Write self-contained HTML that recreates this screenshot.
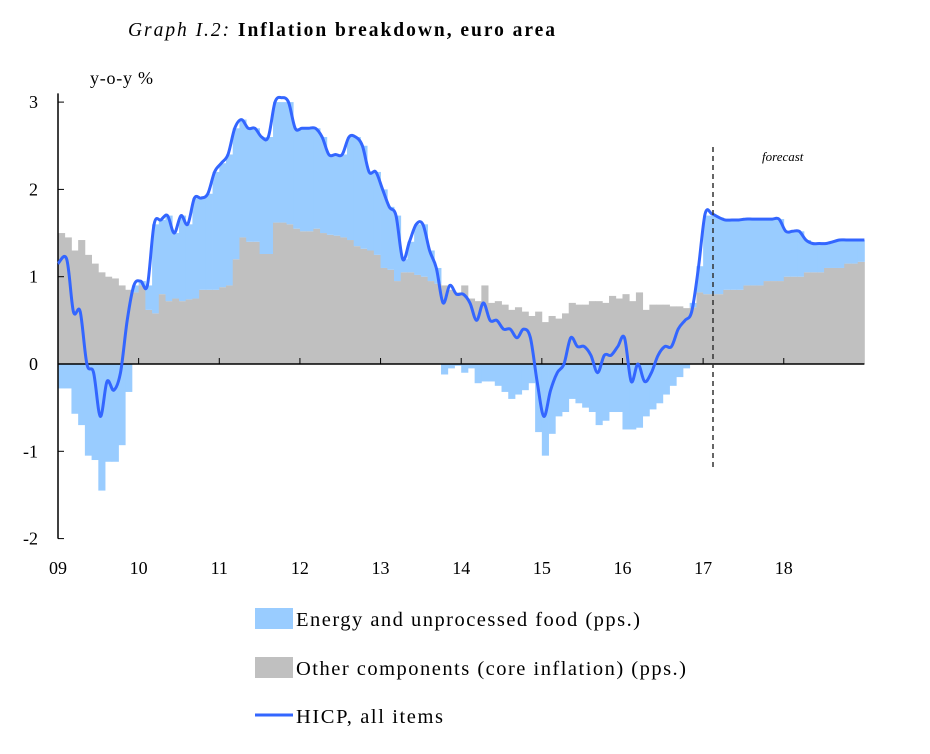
<!DOCTYPE html>
<html><head><meta charset="utf-8"><style>
html,body{margin:0;padding:0;background:#fff;}
svg text{font-family:"Liberation Serif",serif;}
</style></head><body>
<svg width="930" height="749" viewBox="0 0 930 749" xmlns="http://www.w3.org/2000/svg">
<text x="128" y="36" font-size="19.5" textLength="427" lengthAdjust="spacing"><tspan font-style="italic">Graph I.2: </tspan><tspan font-weight="bold">Inflation  breakdown,  euro area</tspan></text>
<text x="90" y="84" font-size="18" textLength="63" lengthAdjust="spacing">y-o-y %</text>
<g id="bars"></g>
<g id="axes"></g>
<path id="hicp" fill="none" stroke="#3366ff" stroke-width="3" stroke-linejoin="round"/>
<line x1="713" y1="147" x2="713" y2="468" stroke="#333" stroke-width="1.5" stroke-dasharray="5,4"/>
<text x="762" y="161" font-size="13" font-style="italic">forecast</text>
<rect x="255" y="608" width="38" height="21" fill="#99ccff"/>
<text x="296" y="626" font-size="20.5" textLength="344" lengthAdjust="spacing">Energy and unprocessed food (pps.)</text>
<rect x="255" y="657" width="38" height="21" fill="#c0c0c0"/>
<text x="296" y="675" font-size="20.5" textLength="390" lengthAdjust="spacing">Other components (core inflation) (pps.)</text>
<line x1="255" y1="715" x2="293" y2="715" stroke="#3366ff" stroke-width="3"/>
<text x="296" y="723" font-size="20.5" textLength="147" lengthAdjust="spacing">HICP, all items</text>
</svg>
<script>
const yearLabels=["09","10","11","12","13","14","15","16","17","18"];
const yTicks=[-2,-1,0,1,2,3];
const core=[1.5,1.45,1.3,1.42,1.25,1.15,1.05,1.0,0.98,0.9,0.85,0.82,
0.9,0.62,0.58,0.8,0.72,0.75,0.72,0.74,0.75,0.85,0.85,0.85,
0.88,0.9,1.2,1.45,1.4,1.4,1.26,1.26,1.62,1.62,1.6,1.55,
1.52,1.52,1.55,1.5,1.48,1.47,1.45,1.42,1.35,1.32,1.3,1.25,
1.1,1.08,0.95,1.05,1.05,1.02,1.0,0.95,0.92,0.9,0.85,0.82,
0.9,0.75,0.72,0.9,0.7,0.72,0.68,0.62,0.65,0.6,0.55,0.6,
0.48,0.55,0.52,0.58,0.7,0.68,0.68,0.72,0.72,0.7,0.78,0.75,
0.8,0.72,0.82,0.62,0.68,0.68,0.68,0.66,0.66,0.64,0.65,0.82,
0.8,0.8,0.8,0.85,0.85,0.85,0.9,0.9,0.9,0.95,0.95,0.95,
1.0,1.0,1.0,1.05,1.05,1.05,1.1,1.1,1.1,1.15,1.15,1.17];
const energy=[-0.28,-0.28,-0.57,-0.7,-1.05,-1.1,-1.45,-1.12,-1.12,-0.93,-0.32,0.08,
0.05,0.28,1.02,0.85,0.98,0.75,0.98,0.86,1.15,1.05,1.1,1.35,
1.42,1.5,1.5,1.35,1.3,1.3,1.34,1.34,1.38,1.38,1.4,1.15,
1.18,1.18,1.15,1.1,0.92,0.93,0.95,1.18,1.25,1.18,0.9,0.95,
0.9,0.72,0.75,0.15,0.35,0.58,0.6,0.35,0.18,-0.12,-0.05,-0.02,
-0.1,-0.05,-0.22,-0.2,-0.2,-0.25,-0.32,-0.4,-0.35,-0.3,-0.22,-0.78,
-1.05,-0.8,-0.6,-0.55,-0.4,-0.45,-0.5,-0.55,-0.7,-0.65,-0.55,-0.55,
-0.75,-0.75,-0.73,-0.6,-0.52,-0.45,-0.35,-0.25,-0.15,-0.05,0.05,0.3,
0.9,0.9,0.88,0.8,0.8,0.8,0.76,0.76,0.76,0.71,0.71,0.71,
0.52,0.52,0.52,0.37,0.33,0.33,0.28,0.3,0.32,0.27,0.27,0.25];
const hicp=[1.15,1.2,0.6,0.6,0.0,-0.1,-0.6,-0.2,-0.3,-0.1,0.5,0.9,
0.95,0.9,1.6,1.65,1.7,1.5,1.7,1.6,1.9,1.9,1.95,2.2,
2.3,2.4,2.7,2.8,2.7,2.7,2.6,2.6,3.0,3.05,3.0,2.7,
2.7,2.7,2.7,2.6,2.4,2.4,2.4,2.6,2.6,2.5,2.2,2.2,
2.0,1.8,1.7,1.2,1.4,1.6,1.6,1.3,1.1,0.7,0.9,0.8,
0.8,0.7,0.5,0.7,0.5,0.5,0.4,0.4,0.3,0.4,0.3,-0.2,
-0.6,-0.3,-0.1,0.0,0.3,0.2,0.2,0.1,-0.1,0.1,0.1,0.2,
0.3,-0.2,0.0,-0.2,-0.1,0.1,0.2,0.2,0.4,0.5,0.6,1.1,
1.72,1.72,1.68,1.65,1.65,1.65,1.66,1.66,1.66,1.66,1.66,1.66,
1.52,1.52,1.52,1.42,1.38,1.38,1.38,1.4,1.42,1.42,1.42,1.42];

const NS="http://www.w3.org/2000/svg";
const X0=58, MW=6.72, Y0=364, YU=87.3;
function xs(i){return X0+i*MW;}
function ys(v){return Y0-v*YU;}
function mk(tag,attrs,parent){const e=document.createElementNS(NS,tag);for(const k in attrs)e.setAttribute(k,attrs[k]);parent.appendChild(e);return e;}
const bars=document.getElementById('bars');
for(let i=0;i<core.length;i++){
  const c=core[i], en=energy[i];
  const r=mk('rect',{x:xs(i),width:MW+0.4,y:ys(Math.max(c,0)),height:Math.abs(c)*YU,fill:'#c0c0c0'},bars);
  
  
  let top,bot;
  if(en>=0){top=c+en;bot=c;}else{top=0;bot=en;}
  const b=mk('rect',{x:xs(i),width:MW+0.4,y:ys(top),height:(top-bot)*YU,fill:'#99ccff'},bars);
  
  
}
const ax=document.getElementById('axes');
const za=mk('line',{x1:X0,y1:Y0,x2:xs(120),y2:Y0,stroke:'#000','stroke-width':1.5},ax);


const ya=mk('line',{x1:X0,y1:ys(3.1),x2:X0,y2:ys(-2),stroke:'#000','stroke-width':1.5},ax);


yTicks.forEach(v=>{
  mk('line',{x1:X0,y1:ys(v),x2:X0+6,y2:ys(v),stroke:'#000','stroke-width':1},ax);
  const t=mk('text',{x:38,y:ys(v)+6,'font-size':18,'text-anchor':'end'},ax);
  t.textContent=String(v);
  
  
});
yearLabels.forEach((l,k)=>{
  const x=xs(k*12);
  if(k>0)mk('line',{x1:x,y1:Y0,x2:x,y2:Y0-6,stroke:'#000','stroke-width':1},ax);
  const t=mk('text',{x:x,y:574,'font-size':18,'text-anchor':'middle'},ax);
  t.textContent=l;
  
  
});
const pts=hicp.map((v,i)=>[xs(i)+2,ys(v)]);
pts[0][0]=X0;
let d='M'+pts[0][0]+','+pts[0][1];
for(let i=0;i<pts.length-1;i++){
  const p0=pts[Math.max(i-1,0)],p1=pts[i],p2=pts[i+1],p3=pts[Math.min(i+2,pts.length-1)];
  const c1=[p1[0]+(p2[0]-p0[0])/6,p1[1]+(p2[1]-p0[1])/6];
  const c2=[p2[0]-(p3[0]-p1[0])/6,p2[1]-(p3[1]-p1[1])/6];
  d+=' C'+c1[0].toFixed(1)+','+c1[1].toFixed(1)+' '+c2[0].toFixed(1)+','+c2[1].toFixed(1)+' '+p2[0].toFixed(1)+','+p2[1].toFixed(1);
}
d+=' L'+xs(120)+','+pts[pts.length-1][1];
document.getElementById('hicp').setAttribute('d',d);
</script>
</body></html>
